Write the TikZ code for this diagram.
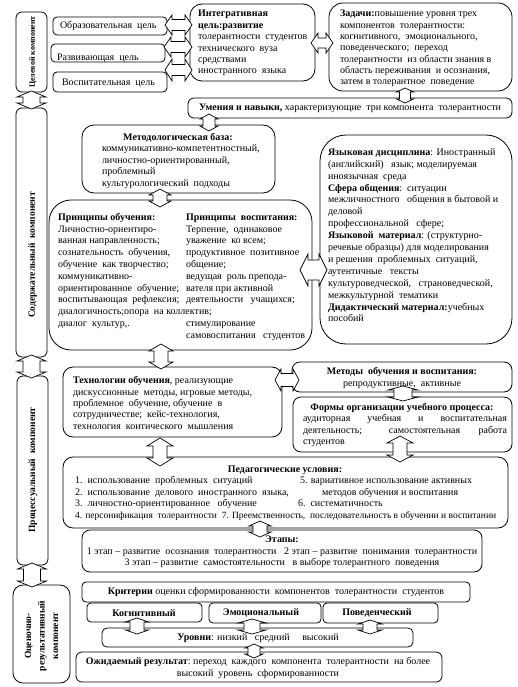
\documentclass[tikz,border=0pt]{standalone}
\usepackage{fontspec}
\setmainfont{Liberation Serif}
\usetikzlibrary{calc}
\tikzset{
 box/.style={draw, line width=0.8pt, fill=white, inner sep=0pt, outer sep=0pt},
 txt/.style={inner sep=0pt, outer sep=0pt, anchor=north west, align=left, font=\fontsize{10}{11.6}\selectfont},
 ctxt/.style={inner sep=0pt, outer sep=0pt, align=center, font=\fontsize{10}{11.6}\selectfont},
 barrow/.style={draw, line width=0.7pt, fill=white, line join=miter},
 vlab/.style={inner sep=0pt, rotate=90, font=\fontsize{9.5}{13.5}\selectfont\bfseries, align=center},
}
\newcommand\mkbox[6]{\node[box, rounded corners=#6pt, minimum width={#4-#2}, minimum height={#5-#3}] (#1) at ({(#2+#4)/2},{(#3+#5)/2}) {};}
\newcommand\vdarrow[6]{\draw[barrow] ({#1-#5/2},{#2+#6}) -- ({#1-#4/2},{#2+#6}) -- (#1,#2) -- ({#1+#4/2},{#2+#6}) -- ({#1+#5/2},{#2+#6}) -- ({#1+#5/2},{#3-#6}) -- ({#1+#4/2},{#3-#6}) -- (#1,#3) -- ({#1-#4/2},{#3-#6}) -- ({#1-#5/2},{#3-#6}) -- cycle;}
\newcommand\hdarrow[6]{\draw[barrow] ({#2+#6},{#1-#5/2}) -- ({#2+#6},{#1-#4/2}) -- (#2,#1) -- ({#2+#6},{#1+#4/2}) -- ({#2+#6},{#1+#5/2}) -- ({#3-#6},{#1+#5/2}) -- ({#3-#6},{#1+#4/2}) -- (#3,#1) -- ({#3-#6},{#1-#4/2}) -- ({#3-#6},{#1-#5/2}) -- cycle;}
\begin{document}
\begin{tikzpicture}[x=1pt,y=-1pt]
\useasboundingbox[fill=white] (0,0) rectangle (517,687);
% left column
\mkbox{cel}{16}{12}{47}{92}{6}
\mkbox{sod}{16}{108}{47}{357}{6}
\mkbox{proc}{17}{376}{48}{565}{6}
\mkbox{ocen}{13}{585}{70}{683}{10}
\node[vlab, font=\fontsize{8}{10}\selectfont\bfseries] (celt) at (33,52) {Целевой компонент};
\node[vlab] (sodt) at (32.5,255) {Содержательный\ \ компонент};
\node[vlab] (proct) at (33,470) {Процессуальный\ \ компонент};
\node[vlab] (ocent) at (41.5,636) {Оценочно-\\результативный\\компонент};
% goals
\mkbox{g1}{53}{17}{167}{35}{4}
\mkbox{g2}{51}{44}{165}{62}{4}
\mkbox{g3}{53}{72}{167}{92}{4}
\node[txt] (g1t) at (60,20) {\strut Образовательная\ \ цель};
\begin{scope}
\clip (51,44) rectangle (165,62);
\node[txt] (g2t) at (57,52) {\strut Развивающая\ \ цель};
\end{scope}
\node[txt] (g3t) at (62,77) {\strut Воспитательная\ \ цель};
% integrative
\mkbox{integ}{190}{4}{315}{81}{12}
\begin{scope}
\clip[rounded corners=12pt] (190,4) rectangle (315,81);
\node[txt, font=\fontsize{10}{11.4}\selectfont] (integt) at (198,9) {\strut\textbf{Интегративная}\\\textbf{цель:развитие}\\толерантности\ \ студентов\\технического\ \ вуза\\средствами\\иностранного\ \ языка};
\end{scope}
% tasks
\mkbox{zad}{329}{3}{512}{91}{14}
\node[txt, font=\fontsize{10}{11.33}\selectfont] (zadt) at (340,9) {\strut\textbf{Задачи:}повышение уровня трех\\компонентов\ \ толерантности:\\когнитивного,\ \ эмоционального,\\поведенческого;\ \ переход\\толерантности\ \ из области знания в\\область переживания\ \ и осознания,\\затем в толерантное\ \ поведение};
% skills
\mkbox{umen}{188}{98}{512}{118}{6}
\node[ctxt] (ument) at (350,108) {\textbf{Умения и навыки,} характеризующие\ \ три компонента\ \ толерантности};
% methodological base
\mkbox{met}{82}{125}{275}{193}{12}
\node[ctxt] (mett1) at (178,138) {\textbf{Методологическая база:}};
\node[txt, font=\fontsize{10}{11.8}\selectfont] (mett2) at (102,143) {\strut коммуникативно-компетентностный,\\личностно-ориентированный,\\проблемный\\культурологический\ \ подходы};
% principles
\mkbox{prin}{49}{200}{312}{350}{22}
\node[txt, font=\fontsize{10}{11.8}\selectfont] (prinl) at (58,212) {\strut\textbf{Принципы обучения:}\\Личностно-ориентиро-\\ванная направленность;\\сознательность\ \ обучения,\\обучение\ \ как творчество;\\коммуникативно-\\ориентированное\ \ обучение;\\воспитывающая\ \ рефлексия;\\диалогичность;опора\ \ на коллектив;\\диалог\ \ культур,.};
\node[txt, font=\fontsize{10}{11.8}\selectfont] (prinr) at (186,212) {\strut\textbf{Принципы\ \ воспитания:}\\Терпение,\ \ одинаковое\\уважение\ \ ко всем;\\продуктивное\ \ позитивное\\общение;\\ведущая\ \ роль препода-\\вателя при активной\\деятельности\ \ \ учащихся;\\\mbox{}\\стимулирование\\самовоспитания\ \ \ студентов};
% language box
\mkbox{yaz}{320}{135}{512}{344}{26}
\node[txt, font=\fontsize{10}{11.9}\selectfont] (yazt) at (328,147) {\strut\textbf{Языковая дисциплина}: Иностранный\\(английский)\ \ \ язык; моделируемая\\иноязычная\ \ среда\\\textbf{Сфера общения}:\ \ ситуации\\межличностного\ \ \ общения в бытовой и\\деловой\\профессиональной\ \ \ сфере;\\\textbf{Языковой\ \ материал}: (структурно-\\речевые образцы) для моделирования\\и решения\ \ проблемных\ \ ситуаций,\\аутентичные\ \ \ тексты\\культуроведческой,\ \ \ страноведческой,\\межкультурной\ \ тематики\\\textbf{Дидактический материал:}учебных\\пособий};
% technologies
\mkbox{tech}{63}{367}{282}{437}{10}
\node[txt, font=\fontsize{10}{11.3}\selectfont] (techt) at (73,376) {\strut\textbf{Технологии обучения}, реализующие\\дискуссионные\ \ методы, игровые методы,\\проблемное\ \ обучение, обучение\ \ в\\сотрудничестве;\ \ кейс-технология,\\технология\ \ коитического\ \ мышления};
% methods
\mkbox{meth}{292}{362}{512}{392}{8}
\node[ctxt] (metht) at (402,378) {\textbf{Методы\ \ обучения и воспитания:}\\репродуктивные,\ \ активные};
% forms
\mkbox{form}{293}{397}{512}{452}{8}
\node[ctxt] (formt1) at (402,408) {\textbf{Формы организации учебного процесса:}};
\node[txt, font=\fontsize{10}{11.8}\selectfont] (formt2) at (303,413) {\strut\makebox[204pt][s]{аудиторная учебная и воспитательная}\\\makebox[204pt][s]{деятельность; самостоятельная работа}\\студентов};
% pedagogical conditions
\mkbox{ped}{63}{457}{508}{528}{10}
\node[ctxt] (pedt0) at (285,470) {\textbf{Педагогические условия:}};
\node[txt, font=\fontsize{10}{11.8}\selectfont] (pedt1) at (75,475) {\strut 1.\ \ использование\ \ проблемных\ \ ситуаций\\2.\ \ использование\ \ делового\ \ иностранного\ \ языка,\\3.\ \ личностно-ориентированное\ \ \ обучение};
\node[txt, font=\fontsize{9.5}{11.8}\selectfont] (pedt5) at (75,510.4) {\strut 4. персонификация\ \ толерантности\ \ 7. Преемственность,\ \ последовательность в обучении и воспитании};
\node[txt] (pedt2) at (300,475) {\strut 5. вариативное использование активных};
\node[txt] (pedt3) at (322,487) {\strut методов обучения и воспитания};
\node[txt] (pedt4) at (298,498) {\strut 6.\ \ систематичность};
% stages
\mkbox{etap}{82}{530}{482}{572}{8}
\node[ctxt, font=\fontsize{10}{11.5}\selectfont] (etapt) at (282,552) {\textbf{Этапы:}\\1 этап -- развитие\ \ осознания\ \ толерантности\ \ \ 2 этап -- развитие\ \ понимания\ \ толерантности\\3 этап -- развитие\ \ самостоятельности\ \ \ в выборе толерантного\ \ поведения};
% criteria
\mkbox{krit}{82}{582}{470}{602}{4}
\node[ctxt] (kritt) at (276,592) {\textbf{Критерии} оценки сформированности\ \ компонентов\ \ толерантности\ \ студентов};
\mkbox{k1}{87}{603}{202}{622}{4}
\mkbox{k2}{209}{603}{321}{623}{4}
\mkbox{k3}{323}{603}{438}{623}{4}
\node[ctxt] (k1t) at (144,613) {\textbf{Когнитивный}};
\node[ctxt] (k2t) at (261,613) {\textbf{Эмоциональный}};
\node[ctxt] (k3t) at (377,613) {\textbf{Поведенческий}};
% levels
\mkbox{urov}{102}{628}{413}{647}{5}
\node[ctxt] (urovt) at (258,638) {\textbf{Уровни}: низкий\ \ \ средний\ \ \ \ \ высокий};
% expected result
\mkbox{ozh}{76}{652}{442}{682}{6}
\node[ctxt, font=\fontsize{10}{11.8}\selectfont] (ozht) at (258,668) {\textbf{Ожидаемый результат}:\ переход\ \ каждого\ \ компонента\ \ толерантности\ \ на более\\высокий\ \ уровень\ \ сформированности};
% block arrows
\vdarrow{31.5}{91}{109}{29}{17}{6}
\vdarrow{31.5}{355}{378}{29}{17}{6}
\vdarrow{32}{563}{587}{29}{17}{6}
\hdarrow{25}{165}{192}{20}{11}{7}
\hdarrow{47}{164}{192}{20}{11}{7}
\hdarrow{70}{165}{192}{22}{11}{7}
\hdarrow{43}{311}{333}{20}{10}{7}
\vdarrow{405}{88}{103}{17}{11}{4}
\vdarrow{209}{114}{131}{18}{12}{5}
\vdarrow{160}{189}{207}{22}{14}{6}
\hdarrow{270}{300}{327}{32}{20}{8}
\vdarrow{161}{344}{369}{24}{14}{7}
\hdarrow{380}{275}{299}{22}{13}{6}
\vdarrow{403}{386}{401}{30}{18}{4}
\vdarrow{160}{438}{466}{26}{14}{8}
\vdarrow{400}{436}{462}{26}{14}{7}
\vdarrow{260}{521}{537}{22}{14}{5}
\vdarrow{137}{618}{634}{23}{14}{4}
\vdarrow{252}{619}{634}{28}{16}{4}
\vdarrow{370}{620}{634}{24}{14}{4}
\vdarrow{254}{644}{658}{18}{12}{4}
\end{tikzpicture}
\end{document}
